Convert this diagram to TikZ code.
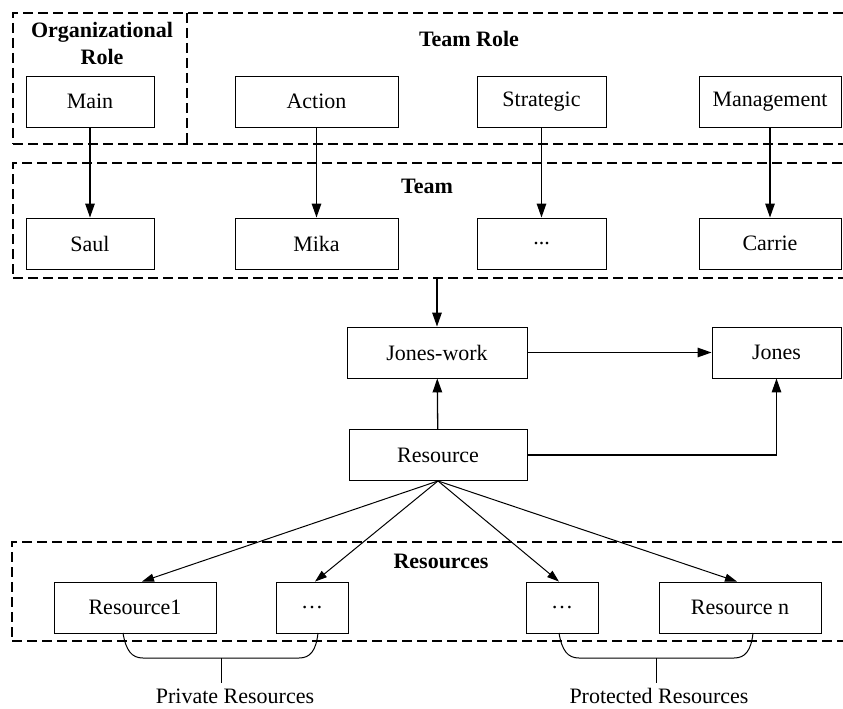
\documentclass[tikz,border=0pt]{standalone}
\usepackage{fontspec}
\setmainfont{Liberation Serif}
\usetikzlibrary{arrows.meta}
\begin{document}
\begin{tikzpicture}[x=1pt,y=-1pt,
  every node/.style={font=\fontsize{22}{26}\selectfont},
  box/.style={draw, line width=0.9pt, minimum height=51pt, inner sep=0pt},
  region/.style={draw, dashed, dash pattern=on 10pt off 5pt, line width=1.2pt, inner sep=0pt},
  title/.style={anchor=base, font=\fontsize{22}{26}\selectfont\bfseries},
  plain/.style={anchor=base},
  link/.style={line width=1.3pt, -{Triangle[length=14pt,width=9.5pt]}},
  fan/.style={line width=1pt, -{Triangle[length=12pt,width=8pt]}},
  brace/.style={line width=1pt}
]
\useasboundingbox (0,0) rectangle (843,709);
\clip (0,0) rectangle (843,709);

% dashed groups
\node[region, minimum width=837pt, minimum height=131pt] (roles) at (431.5,78.5) {};
\draw[region] (187,13) -- (187,144);
\node[region, minimum width=837pt, minimum height=115pt] (team) at (431.5,220.5) {};
\node[region, minimum width=838pt, minimum height=99pt] (pool) at (431,591.5) {};

% group titles
\node[title] at (102,38) {Organizational};
\node[title] at (102,65) {Role};
\node[title] at (469,47) {Team Role};
\node[title] at (427,193) {Team};
\node[title] at (441,568) {Resources};

% roles
\node[box, minimum width=128pt] (main) at (90,101.5) {Main};
\node[box, minimum width=163pt] (action) at (316.5,101.5) {Action};
\node[box, minimum width=129pt] (strategic) at (541.5,101.5) {Strategic};
\node[box, minimum width=142pt] (management) at (770,101.5) {Management};

% team members
\node[box, minimum width=128pt] (saul) at (90,243.5) {Saul};
\node[box, minimum width=163pt] (mika) at (316.5,243.5) {Mika};
\node[box, minimum width=129pt] (others) at (541.5,243.5) {...};
\node[box, minimum width=142pt] (carrie) at (770,243.5) {Carrie};

% work identity
\node[box, minimum width=180pt] (joneswork) at (437,352.5) {Jones-work};
\node[box, minimum width=129pt] (jones) at (776.5,352.5) {Jones};
\node[box, minimum width=178pt] (resource) at (438,455) {Resource};

% resources
\node[box, minimum width=162pt] (res1) at (135,607.5) {Resource1};
\node[box, minimum width=72pt] (resa) at (312,607.5) {\ldots};
\node[box, minimum width=72pt] (resb) at (562,607.5) {\ldots};
\node[box, minimum width=162pt] (resn) at (740,607.5) {Resource n};

% role assignments
\draw[link] (main) -- (saul);
\draw[link] (action) -- (mika);
\draw[link] (strategic) -- (others);
\draw[link] (management) -- (carrie);

% team, work identity and owner
\draw[link] (team.south -| joneswork) -- (joneswork);
\draw[link] (joneswork) -- (jones);
\draw[link] (resource) -- (joneswork);
\draw[link] (resource.east) -| (jones.south);

% resource fan-out
\draw[fan] (resource.south) -- ([xshift=7pt]res1.north);
\draw[fan] (resource.south) -- ([xshift=3pt]resa.north);
\draw[fan] (resource.south) -- ([xshift=-3pt]resb.north);
\draw[fan] (resource.south) -- ([xshift=-3pt]resn.north);

% grouping brackets
\coordinate (privL) at (123,633);
\coordinate (privR) at (318,633);
\coordinate (protL) at (559,633);
\coordinate (protR) at (753,633);
\draw[brace] (privL) .. controls (126,651) and (132,658) .. (143,658)
  -- (299,658) .. controls (310,658) and (316,651) .. (privR);
\draw[brace] (221,658) -- (221,683);
\draw[brace] (protL) .. controls (562,651) and (568,658) .. (579,658)
  -- (734,658) .. controls (745,658) and (751,651) .. (protR);
\draw[brace] (656,658) -- (656,683);

\node[plain] (private) at (235,703) {Private Resources};
\node[plain] (protected) at (659,703) {Protected Resources};
\end{tikzpicture}
\end{document}
